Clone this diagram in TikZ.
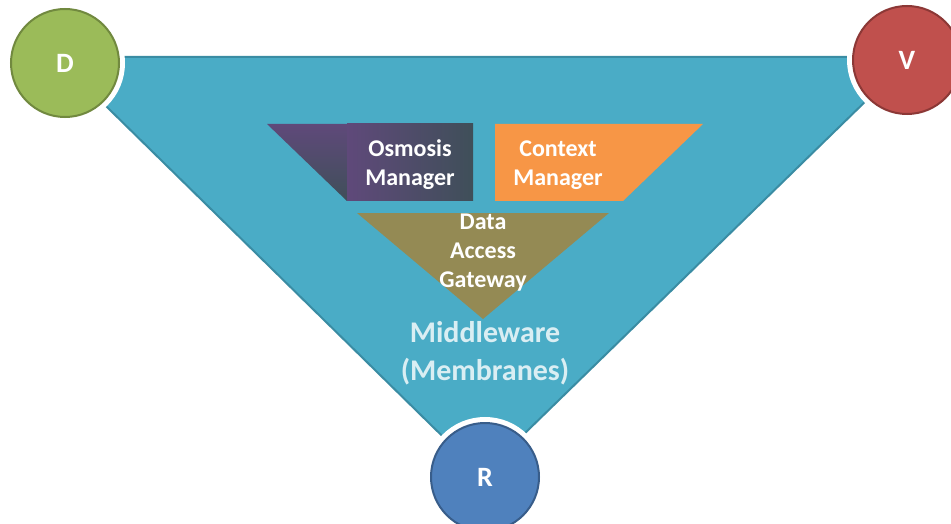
\documentclass[tikz,border=0pt]{standalone}
\usepackage{fontspec}
\setmainfont{Carlito}
\definecolor{membrane}{HTML}{4AACC6}
\definecolor{membraneline}{HTML}{3A8CA3}
\definecolor{dgreen}{HTML}{9BBB59}
\definecolor{dgreenline}{HTML}{71893F}
\definecolor{vred}{HTML}{C0504D}
\definecolor{vredline}{HTML}{8C3836}
\definecolor{rblue}{HTML}{4F81BD}
\definecolor{rblueline}{HTML}{385D8A}
\definecolor{osmpurple}{HTML}{5F497A}
\definecolor{osmdark}{HTML}{3F4F59}
\definecolor{ctxorange}{HTML}{F79646}
\definecolor{dagolive}{HTML}{948A54}
\definecolor{midtext}{HTML}{DAEEF3}
\begin{document}
\begin{tikzpicture}[x=1pt,y=-1pt,
    vert/.style={circle,inner sep=0pt,minimum size=108pt,line width=2pt,
        preaction={draw=white,line width=12pt},text=white,
        font=\fontsize{28}{34}\selectfont\bfseries},
    lbl/.style={text=white,align=center,font=\fontsize{24}{29}\selectfont\bfseries}]
\useasboundingbox (0,0) rectangle (951,524);
% corners of the membrane
\coordinate (tl) at (56,57);
\coordinate (tr) at (911,57);
\coordinate (bot) at (482,475);
\draw[fill=membrane,draw=membraneline,line width=2pt] (tl) -- (tr) -- (bot) -- cycle;
% osmosis manager
\shade[top color=osmpurple,bottom color=osmdark] (267,124) -- (347,124) -- (347,201) -- cycle;
\shade[left color=osmpurple,right color=osmdark] (347,124) -- (473,124) -- (473,201) -- (347,201) -- cycle;
\node[lbl] (osm) at (410,165) {Osmosis\\Manager};
% context manager
\fill[ctxorange] (495,124) -- (703,124) -- (623,201) -- (495,201) -- cycle;
\node[lbl] (ctx) at (558,165) {Context\\Manager};
% data access gateway
\fill[dagolive] (357,213) -- (609,213) -- (483,319) -- cycle;
\node[lbl] (dag) at (483,253) {Data\\Access\\Gateway};
\node[text=midtext,align=center,font=\fontsize{30}{38}\selectfont\bfseries] (mid) at (485,353) {Middleware\\(Membranes)};
% vertices
\node[vert,fill=dgreen,draw=dgreenline] (D) at (65,63) {D};
\node[vert,fill=vred,draw=vredline] (V) at (907,60) {V};
\node[vert,fill=rblue,draw=rblueline] (R) at (485,477) {R};
\end{tikzpicture}
\end{document}
